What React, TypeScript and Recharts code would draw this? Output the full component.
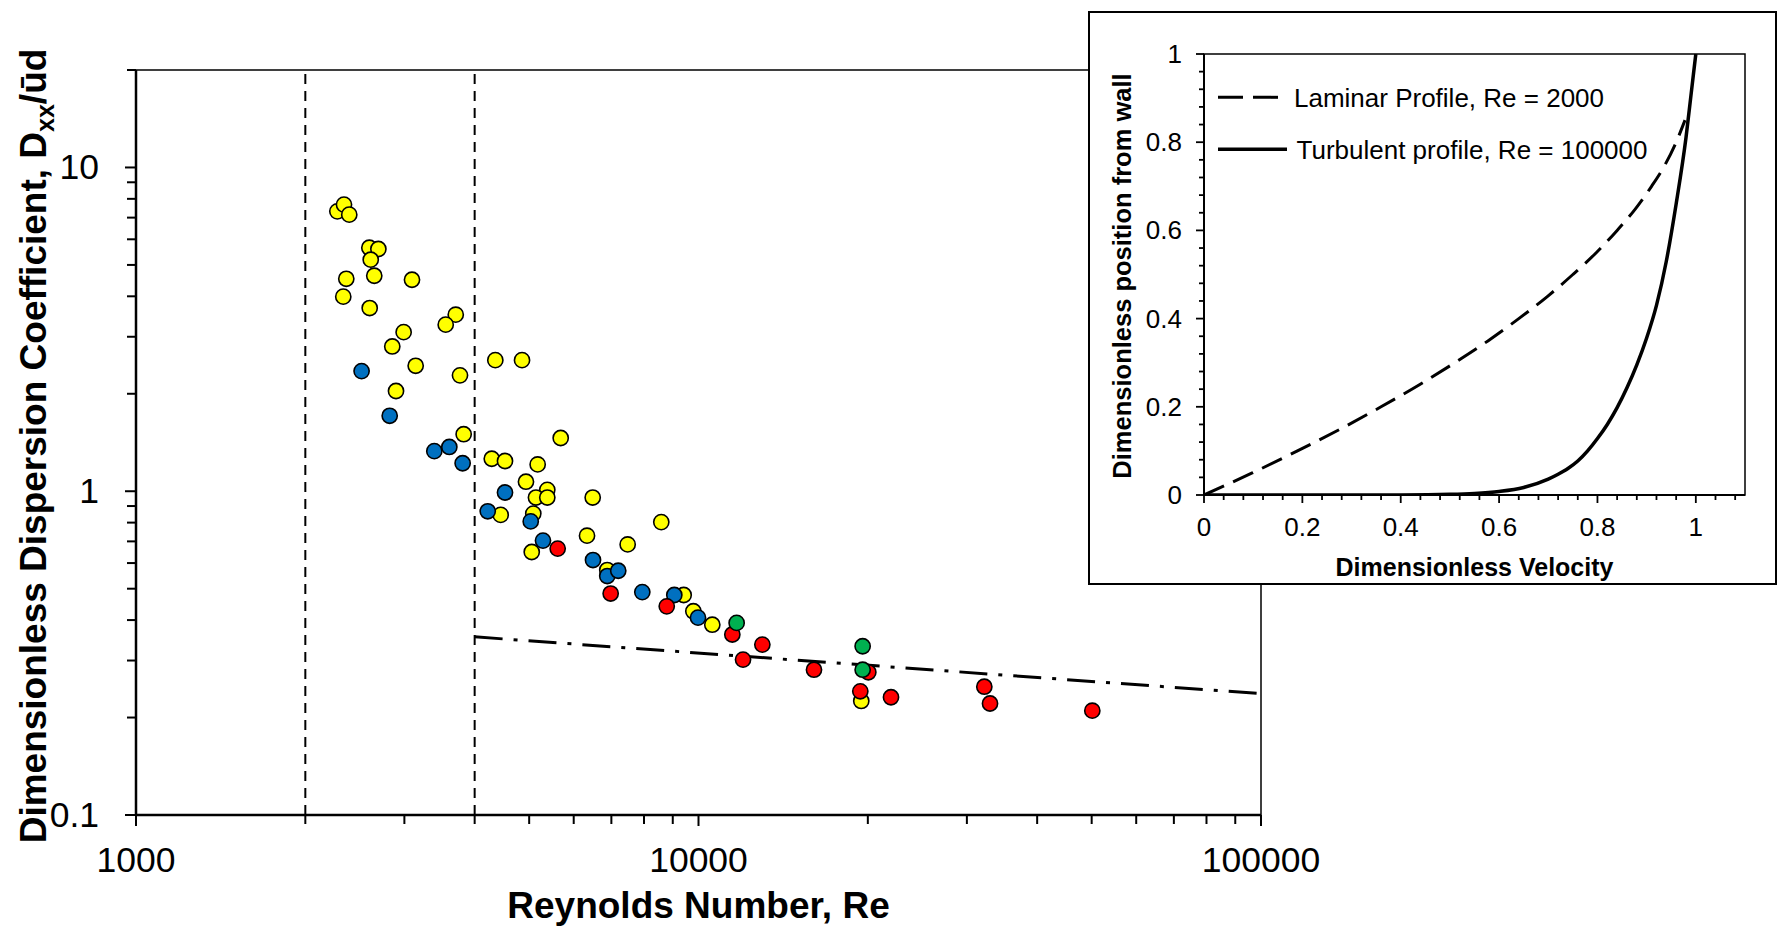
import React from 'react';
import {
  ScatterChart,
  Scatter,
  XAxis,
  YAxis,
  ReferenceLine,
  ReferenceArea,
  LineChart,
  Line,
  Legend,
  Label,
} from 'recharts';

const FONT = '"Liberation Sans", Arial, Helvetica, sans-serif';

// ---------- Main chart data (Re, Dxx/ud) ----------
const YELLOW: [number, number][] = [
  [2280, 7.32], [2343, 7.68], [2394, 7.15], [2599, 5.65], [2697, 5.6], [2614, 5.19],
  [2365, 4.53], [2652, 4.63], [3095, 4.5], [2336, 3.99], [2603, 3.68], [3702, 3.51],
  [3553, 3.27], [2991, 3.1], [2855, 2.8], [3142, 2.44], [3767, 2.28], [4353, 2.54],
  [4856, 2.54], [2899, 2.04], [3824, 1.5], [5689, 1.46], [4290, 1.26], [4529, 1.24],
  [5177, 1.21], [4935, 1.07], [5385, 1.01], [5141, 0.956], [5385, 0.956], [6485, 0.956],
  [4450, 0.845], [5085, 0.853], [5053, 0.649], [6336, 0.729], [7483, 0.685], [8587, 0.803],
  [6883, 0.571], [9412, 0.478], [9791, 0.426], [10581, 0.387], [19470, 0.225],
];
const BLUE: [number, number][] = [
  [2518, 2.35], [2825, 1.71], [3391, 1.33], [3606, 1.37], [3808, 1.22], [4529, 0.991],
  [4220, 0.867], [5032, 0.807], [5291, 0.704], [6493, 0.613], [6883, 0.547], [7200, 0.568],
  [7945, 0.488], [9057, 0.478], [9980, 0.407],
];
const RED: [number, number][] = [
  [5619, 0.665], [6980, 0.483], [8781, 0.441], [11485, 0.361], [12987, 0.336], [12000, 0.302],
  [16044, 0.281], [20040, 0.276], [19393, 0.241], [21990, 0.231], [32220, 0.249], [32980, 0.221],
  [50130, 0.21],
];
const GREEN: [number, number][] = [
  [11690, 0.392], [19580, 0.332], [19580, 0.281],
];
const FIT: [number, number][] = [
  [4000, 0.355], [100000, 0.237],
];
const TRANSITION_RE = [2000, 4000];

const RE_MAJOR = [1000, 10000, 100000];
const RE_TICKS = [
  1000, 2000, 3000, 4000, 5000, 6000, 7000, 8000, 9000,
  10000, 20000, 30000, 40000, 50000, 60000, 70000, 80000, 90000, 100000,
];
const D_MAJOR = [0.1, 1, 10];
const D_TICKS = [
  0.1, 0.2, 0.3, 0.4, 0.5, 0.6, 0.7, 0.8, 0.9,
  1, 2, 3, 4, 5, 6, 7, 8, 9, 10, 20,
];

// ---------- Inset data (velocity u, position from wall p) ----------
const LAM_U = [0, 0.098, 0.19, 0.278, 0.36, 0.438, 0.51, 0.578, 0.64, 0.698, 0.75, 0.798, 0.84, 0.878, 0.91, 0.938, 0.96, 0.978];
const LAM_P = [0, 0.05, 0.1, 0.15, 0.2, 0.25, 0.3, 0.35, 0.4, 0.45, 0.5, 0.55, 0.6, 0.65, 0.7, 0.75, 0.8, 0.85];
const TURB_U = [0, 0.1, 0.2, 0.3, 0.4, 0.5, 0.55, 0.6, 0.65, 0.7, 0.72, 0.74, 0.76, 0.78, 0.8, 0.82, 0.84, 0.86, 0.88, 0.9, 0.92, 0.94, 0.96, 0.98, 0.99, 1.0];
const TURB_P = [0, 0, 0, 0, 0.0002, 0.0015, 0.0035, 0.008, 0.017, 0.036, 0.047, 0.06, 0.077, 0.1, 0.128, 0.16, 0.198, 0.243, 0.295, 0.356, 0.43, 0.53, 0.66, 0.81, 0.905, 1.0];
const LEGEND_NAMES = ['Laminar Profile, Re = 2000', 'Turbulent profile, Re = 100000'];

const U_MAJOR = [0, 0.2, 0.4, 0.6, 0.8, 1];
const U_TICKS = [
  0, 0.04, 0.08, 0.12, 0.16, 0.2, 0.24, 0.28, 0.32, 0.36, 0.4, 0.44, 0.48, 0.52,
  0.56, 0.6, 0.64, 0.68, 0.72, 0.76, 0.8, 0.84, 0.88, 0.92, 0.96, 1, 1.04, 1.08,
];
const P_MAJOR = [0, 0.2, 0.4, 0.6, 0.8, 1];
const P_TICKS = [
  0, 0.04, 0.08, 0.12, 0.16, 0.2, 0.24, 0.28, 0.32, 0.36, 0.4, 0.44, 0.48, 0.52,
  0.56, 0.6, 0.64, 0.68, 0.72, 0.76, 0.8, 0.84, 0.88, 0.92, 0.96, 1,
];

const toPts = (arr: [number, number][]) => arr.map(([re, d]) => ({ re, d }));
const LAMINAR = LAM_U.map((u, i) => ({ u, p: LAM_P[i] }));
const TURBULENT = TURB_U.map((u, i) => ({ u, p: TURB_P[i] }));

// ---------- Tick renderers ----------
const MainXTick = (props: any) => {
  const { x, y, payload } = props;
  const v = payload.value;
  const major = RE_MAJOR.includes(v);
  return (
    <g>
      <line x1={x} x2={x} y1={y} y2={y + (major ? 11 : 9)} stroke="#000" strokeWidth={2} />
      {major && (
        <text x={x} y={y + 57} textAnchor="middle" fontFamily={FONT} fontSize={35.5} fill="#000">
          {String(v)}
        </text>
      )}
    </g>
  );
};

const MainYTick = (props: any) => {
  const { x, y, payload } = props;
  const v = payload.value;
  const major = D_MAJOR.includes(v);
  return (
    <g>
      <line x1={x - (major ? 11 : 9)} x2={x} y1={y} y2={y} stroke="#000" strokeWidth={2} />
      {major && (
        <text x={x - 37} y={y + 12} textAnchor="end" fontFamily={FONT} fontSize={35.5} fill="#000">
          {String(v)}
        </text>
      )}
    </g>
  );
};

const InsetXTick = (props: any) => {
  const { x, y, payload } = props;
  const v = payload.value;
  const major = U_MAJOR.includes(v);
  return (
    <g>
      <line x1={x} x2={x} y1={y} y2={y + (major ? 8 : 5)} stroke="#000" strokeWidth={1.8} />
      {major && (
        <text x={x} y={y + 41} textAnchor="middle" fontFamily={FONT} fontSize={26} fill="#000">
          {String(v)}
        </text>
      )}
    </g>
  );
};

const InsetYTick = (props: any) => {
  const { x, y, payload } = props;
  const v = payload.value;
  const major = P_MAJOR.includes(v);
  return (
    <g>
      <line x1={x - (major ? 8 : 5)} x2={x} y1={y} y2={y} stroke="#000" strokeWidth={1.8} />
      {major && (
        <text x={x - 22} y={y + 9} textAnchor="end" fontFamily={FONT} fontSize={26} fill="#000">
          {String(v)}
        </text>
      )}
    </g>
  );
};

const dot = (color: string) => (p: any) => (
  <circle cx={p.cx} cy={p.cy} r={7.6} fill={color} stroke="#000" strokeWidth={1.6} />
);

const InsetLegend = () => (
  <svg width={520} height={100} style={{ display: 'block', overflow: 'visible' }}>
    <line x1={8} x2={68} y1={24.3} y2={24.3} stroke="#000" strokeWidth={3} strokeDasharray="25 10" />
    <text x={84} y={33.6} fontFamily={FONT} fontSize={26} fill="#000">{LEGEND_NAMES[0]}</text>
    <line x1={8} x2={77} y1={76.3} y2={76.3} stroke="#000" strokeWidth={3.5} />
    <text x={86.5} y={85.6} fontFamily={FONT} fontSize={26} fill="#000">{LEGEND_NAMES[1]}</text>
  </svg>
);

export default function App() {
  return (
    <div style={{ position: 'absolute', left: 0, top: 0, width: 1777, height: 930, background: '#fff', overflow: 'hidden' }}>
      <ScatterChart width={1777} height={930} margin={{ top: 70, right: 516, bottom: 0, left: 0 }}>
        <XAxis
          type="number"
          dataKey="re"
          scale="log"
          domain={[1000, 100000]}
          allowDataOverflow
          ticks={RE_TICKS}
          interval={0}
          tick={<MainXTick />}
          tickLine={false}
          tickSize={0}
          tickMargin={0}
          height={115}
          axisLine={{ stroke: '#000', strokeWidth: 2.5 }}
        >
          <Label
            content={() => (
              <text x={698.5} y={918} textAnchor="middle" fontFamily={FONT} fontSize={37} fontWeight="bold" fill="#000">
                Reynolds Number, Re
              </text>
            )}
          />
        </XAxis>
        <YAxis
          type="number"
          dataKey="d"
          scale="log"
          domain={[0.1, 20]}
          allowDataOverflow
          ticks={D_TICKS}
          interval={0}
          tick={<MainYTick />}
          tickLine={false}
          tickSize={0}
          tickMargin={0}
          width={136}
          axisLine={{ stroke: '#000', strokeWidth: 2.5 }}
        >
          <Label
            content={() => (
              <text
                transform="translate(45.5,446) rotate(-90)"
                x={0}
                y={0}
                textAnchor="middle"
                fontFamily={FONT}
                fontSize={37}
                fontWeight="bold"
                fill="#000"
              >
                <tspan>Dimensionless Dispersion Coefficient, D</tspan>
                <tspan fontSize={25} dy={8}>xx</tspan>
                <tspan dy={-8}>/ūd</tspan>
              </text>
            )}
          />
        </YAxis>
        <ReferenceArea x1={1000} x2={100000} y1={0.1} y2={20} fill="none" stroke="#000" strokeWidth={1.5} />
        {TRANSITION_RE.map((re) => (
          <ReferenceLine key={re} x={re} stroke="#000" strokeWidth={2} strokeDasharray="10 7" />
        ))}
        <Scatter
          data={toPts(FIT)}
          fill="none"
          stroke="#000"
          line={{ stroke: '#000', strokeWidth: 3, strokeDasharray: '28 11 4 11' }}
          shape={() => <g />}
          isAnimationActive={false}
        />
        <Scatter data={toPts(YELLOW)} fill="#FFFF00" shape={dot('#FFFF00')} isAnimationActive={false} />
        <Scatter data={toPts(BLUE)} fill="#0070C0" shape={dot('#0070C0')} isAnimationActive={false} />
        <Scatter data={toPts(RED)} fill="#FF0000" shape={dot('#FF0000')} isAnimationActive={false} />
        <Scatter data={toPts(GREEN)} fill="#00B050" shape={dot('#00B050')} isAnimationActive={false} />
      </ScatterChart>

      <div
        style={{
          position: 'absolute',
          left: 1088,
          top: 11,
          width: 689,
          height: 574,
          border: '2px solid #000',
          boxSizing: 'border-box',
          background: '#fff',
        }}
      >
        <LineChart width={685} height={570} margin={{ top: 41, right: 30, bottom: 0, left: 0 }}>
          <XAxis
            type="number"
            dataKey="u"
            domain={[0, 1.1]}
            allowDataOverflow
            ticks={U_TICKS}
            interval={0}
            tick={<InsetXTick />}
            tickLine={false}
            tickSize={0}
            tickMargin={0}
            height={88}
            axisLine={{ stroke: '#000', strokeWidth: 2 }}
          >
            <Label
              content={() => (
                <text x={384.5} y={563} textAnchor="middle" fontFamily={FONT} fontSize={25} fontWeight="bold" fill="#000">
                  Dimensionless Velocity
                </text>
              )}
            />
          </XAxis>
          <YAxis
            type="number"
            domain={[0, 1]}
            allowDataOverflow
            ticks={P_TICKS}
            interval={0}
            tick={<InsetYTick />}
            tickLine={false}
            tickSize={0}
            tickMargin={0}
            width={114}
            axisLine={{ stroke: '#000', strokeWidth: 2 }}
          >
            <Label
              content={() => (
                <text
                  transform="translate(40.5,263) rotate(-90)"
                  x={0}
                  y={0}
                  textAnchor="middle"
                  fontFamily={FONT}
                  fontSize={25.5}
                  fontWeight="bold"
                  fill="#000"
                >
                  Dimensionless position from wall
                </text>
              )}
            />
          </YAxis>
          <ReferenceArea x1={0} x2={1.1} y1={0} y2={1} fill="none" stroke="#000" strokeWidth={1.5} />
          <Legend
            layout="horizontal"
            verticalAlign="middle"
            align="center"
            content={InsetLegend}
            wrapperStyle={{ left: 120, top: 60, width: 520, height: 100 }}
          />
          <Line
            data={LAMINAR}
            dataKey="p"
            name={LEGEND_NAMES[0]}
            type="monotone"
            stroke="#000"
            strokeWidth={3}
            strokeDasharray="22 10"
            dot={false}
            isAnimationActive={false}
          />
          <Line
            data={TURBULENT}
            dataKey="p"
            name={LEGEND_NAMES[1]}
            type="monotone"
            stroke="#000"
            strokeWidth={3.5}
            dot={false}
            isAnimationActive={false}
          />
        </LineChart>
      </div>
    </div>
  );
}
